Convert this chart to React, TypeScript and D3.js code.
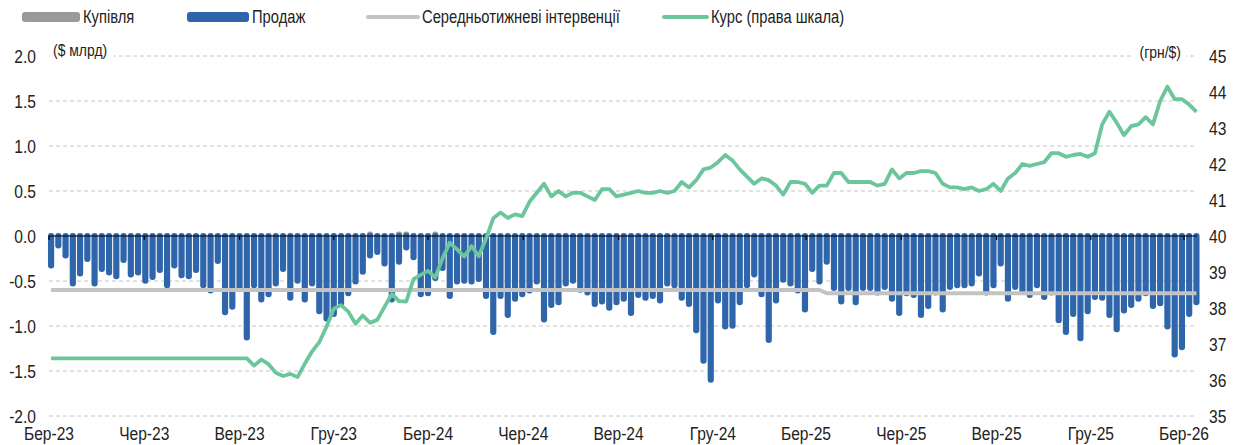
import React from "react";
import * as d3 from "d3";

// weekly sales of FX by the central bank, $ bn (negative = sale)
const sales = [
  -0.36, -0.14, -0.25, -0.56, -0.45, -0.29, -0.56, -0.4, -0.44, -0.48,
  -0.3, -0.46, -0.44, -0.53, -0.49, -0.41, -0.58, -0.36, -0.47, -0.48,
  -0.41, -0.58, -0.64, -0.31, -0.88, -0.82, -0.62, -1.16, -0.58, -0.74,
  -0.68, -0.56, -0.4, -0.72, -0.53, -0.74, -0.56, -0.87, -0.95, -0.9,
  -0.78, -0.67, -0.54, -0.43, -0.25, -0.21, -0.34, -0.74, -0.32, -0.16,
  -0.27, -0.68, -0.67, -0.5, -0.39, -0.7, -0.54, -0.53, -0.54, -0.51,
  -0.7, -1.1, -0.7, -0.91, -0.73, -0.68, -0.64, -0.54, -0.96, -0.8,
  -0.77, -0.56, -0.53, -0.63, -0.66, -0.79, -0.76, -0.83, -0.77, -0.73,
  -0.89, -0.69, -0.72, -0.7, -0.75, -0.56, -0.58, -0.72, -0.79, -1.08,
  -1.42, -1.63, -0.75, -1.04, -1.03, -0.77, -0.58, -0.46, -0.68, -1.19,
  -0.75, -0.52, -0.56, -0.64, -0.85, -0.4, -0.54, -0.32, -0.61, -0.76,
  -0.61, -0.77, -0.61, -0.61, -0.66, -0.6, -0.73, -0.89, -0.67, -0.69,
  -0.91, -0.81, -0.66, -0.85, -0.6, -0.58, -0.58, -0.56, -0.45, -0.66,
  -0.58, -0.34, -0.73, -0.6, -0.64, -0.69, -0.58, -0.71, -0.66, -0.97,
  -1.1, -0.9, -1.17, -0.87, -0.71, -0.72, -0.91, -1.07, -0.86, -0.8,
  -0.73, -0.67, -0.81, -0.78, -1.04, -1.35, -1.27, -0.9, -0.77,
];

// weekly purchases, $ bn
const purchases = [
  0, 0, 0, 0, 0, 0, 0, 0, 0, 0,
  0, 0, 0, 0, 0, 0, 0, 0, 0, 0,
  0, 0, 0, 0, 0, 0, 0, 0, 0, 0,
  0, 0, 0, 0, 0, 0, 0, 0, 0, 0,
  0, 0, 0, 0, 0.05, 0, 0, 0, 0.05, 0.05,
  0, 0, 0, 0.05, 0, 0, 0, 0, 0, 0,
  0, 0, 0, 0, 0, 0, 0, 0, 0, 0,
  0, 0, 0, 0, 0, 0, 0, 0, 0, 0,
  0, 0, 0, 0, 0, 0, 0, 0, 0, 0,
  0, 0, 0, 0, 0, 0, 0, 0, 0, 0,
  0, 0, 0, 0, 0, 0, 0, 0, 0, 0,
  0, 0, 0, 0, 0, 0, 0, 0, 0, 0,
  0, 0, 0, 0, 0, 0, 0, 0, 0, 0,
  0, 0, 0, 0, 0, 0, 0, 0, 0, 0,
  0, 0, 0, 0, 0, 0, 0, 0, 0, 0,
  0, 0, 0, 0, 0, 0, 0, 0, 0,
];

// average weekly interventions, $ bn
const average = [
  -0.6, -0.6, -0.6, -0.6, -0.6, -0.6, -0.6, -0.6, -0.6, -0.6,
  -0.6, -0.6, -0.6, -0.6, -0.6, -0.6, -0.6, -0.6, -0.6, -0.6,
  -0.6, -0.6, -0.6, -0.6, -0.6, -0.6, -0.6, -0.6, -0.6, -0.6,
  -0.6, -0.6, -0.6, -0.6, -0.6, -0.6, -0.6, -0.6, -0.6, -0.6,
  -0.6, -0.6, -0.6, -0.6, -0.6, -0.6, -0.6, -0.6, -0.6, -0.6,
  -0.6, -0.6, -0.6, -0.6, -0.6, -0.6, -0.6, -0.6, -0.6, -0.6,
  -0.6, -0.6, -0.6, -0.6, -0.6, -0.6, -0.6, -0.6, -0.6, -0.6,
  -0.6, -0.6, -0.6, -0.6, -0.6, -0.6, -0.6, -0.6, -0.6, -0.6,
  -0.6, -0.6, -0.6, -0.6, -0.6, -0.6, -0.6, -0.6, -0.6, -0.6,
  -0.6, -0.6, -0.6, -0.6, -0.6, -0.6, -0.6, -0.6, -0.6, -0.6,
  -0.6, -0.6, -0.6, -0.6, -0.6, -0.6, -0.6, -0.635, -0.635, -0.635,
  -0.635, -0.635, -0.635, -0.635, -0.635, -0.635, -0.635, -0.635, -0.635, -0.635,
  -0.635, -0.635, -0.635, -0.635, -0.635, -0.635, -0.635, -0.635, -0.635, -0.635,
  -0.635, -0.635, -0.635, -0.635, -0.635, -0.635, -0.635, -0.635, -0.635, -0.635,
  -0.635, -0.635, -0.635, -0.635, -0.635, -0.635, -0.635, -0.635, -0.635, -0.635,
  -0.635, -0.635, -0.635, -0.635, -0.635, -0.635, -0.635, -0.635, -0.635,
];

// UAH per USD, right axis
const rate = [
  36.6, 36.6, 36.6, 36.6, 36.6, 36.6, 36.6, 36.6, 36.6, 36.6,
  36.6, 36.6, 36.6, 36.6, 36.6, 36.6, 36.6, 36.6, 36.6, 36.6,
  36.6, 36.6, 36.6, 36.6, 36.6, 36.6, 36.6, 36.6, 36.4, 36.57,
  36.44, 36.2, 36.11, 36.17, 36.08, 36.45, 36.79, 37.05, 37.48, 37.98,
  38.08, 37.9, 37.56, 37.79, 37.59, 37.67, 38.03, 38.39, 38.19, 38.18,
  38.8, 38.92, 39.03, 38.85, 39.38, 39.81, 39.63, 39.43, 39.72, 39.44,
  39.93, 40.49, 40.65, 40.5, 40.6, 40.55, 40.95, 41.2, 41.45, 41.1,
  41.25, 41.1, 41.2, 41.2, 41.1, 41.0, 41.3, 41.3, 41.1, 41.15,
  41.2, 41.25, 41.2, 41.2, 41.25, 41.2, 41.25, 41.5, 41.35, 41.55,
  41.85, 41.9, 42.05, 42.25, 42.1, 41.85, 41.65, 41.45, 41.6, 41.55,
  41.4, 41.15, 41.5, 41.5, 41.45, 41.2, 41.4, 41.4, 41.75, 41.75,
  41.5, 41.5, 41.5, 41.5, 41.4, 41.45, 41.85, 41.6, 41.75, 41.75,
  41.8, 41.8, 41.75, 41.45, 41.35, 41.35, 41.3, 41.35, 41.25, 41.3,
  41.45, 41.25, 41.6, 41.75, 42.0, 41.95, 42.0, 42.05, 42.3, 42.3,
  42.2, 42.25, 42.28, 42.2, 42.3, 43.1, 43.45, 43.15, 42.8, 43.05,
  43.1, 43.3, 43.1, 43.75, 44.15, 43.8, 43.8, 43.65, 43.45,
];

const weeks = d3.timeFriday.range(new Date(2023, 2, 3), new Date(2026, 2, 14));
const tickDates = d3.timeMonth.range(new Date(2023, 2, 1), new Date(2026, 2, 2), 3);
const tickLabels = [
  "Бер-23", "Чер-23", "Вер-23", "Гру-23", "Бер-24", "Чер-24", "Вер-24",
  "Гру-24", "Бер-25", "Чер-25", "Вер-25", "Гру-25", "Бер-26",
];
const leftTicks = [2.0, 1.5, 1.0, 0.5, 0.0, -0.5, -1.0, -1.5, -2.0];
const rightTicks = [45, 44, 43, 42, 41, 40, 39, 38, 37, 36, 35];

const FONT = "'Liberation Sans', Arial, sans-serif";
const BLUE = "#2e65ab";
const GREEN = "#6cc69b";
const GREY_LINE = "#c3c3c3";
const GREY_BAR = "#9a9a9a";
const TXT = "#222";

// narrow text: Liberation Sans squeezed horizontally like Arial Narrow
const NText = ({ x, y, size = 18, anchor = "start", children }: any) => (
  <text
    transform={`translate(${x},${y}) scale(0.82,1)`}
    dy="0.35em"
    textAnchor={anchor}
    fontSize={size}
    fill={TXT}
  >
    {children}
  </text>
);

export default function App() {
  const x = d3.scaleTime().domain([new Date(2023, 2, 1), new Date(2026, 2, 1)]).range([49, 1184]);
  const yL = d3.scaleLinear().domain([-2, 2]).range([416, 56]);
  const yR = d3.scaleLinear().domain([35, 45]).range([416, 56]);
  const x0 = 49;
  const x1 = 1197;
  const y0 = yL(0);
  const bw = 6.2;

  const avgLine = d3.line<number>().x((_, i) => x(weeks[i])).y((d) => yL(d));
  const rateLine = d3.line<number>().x((_, i) => x(weeks[i])).y((d) => yR(d));

  return (
    <div style={{ position: "absolute", left: 0, top: 0 }}>
      <svg width={1237} height={445} style={{ display: "block", background: "#fff" }} fontFamily={FONT}>
        {/* grid */}
        {leftTicks.filter((t) => t !== 0).map((t) => (
          <line key={t} x1={x0} x2={x1} y1={yL(t)} y2={yL(t)} stroke="#c6c6c6" strokeDasharray="4 3" />
        ))}
        {/* purchases */}
        {purchases.map((v, i) =>
          v > 0 ? (
            <rect key={"p" + i} x={x(weeks[i]) - bw / 2} y={yL(v)} width={bw} height={y0 - yL(v) + 3} rx={3} fill={GREY_BAR} />
          ) : null
        )}
        {/* sales */}
        {sales.map((v, i) => (
          <rect key={"s" + i} x={x(weeks[i]) - bw / 2} y={y0 - 3} width={bw} height={yL(v) - y0 + 3} rx={3} fill={BLUE} />
        ))}
        {/* zero axis */}
        <line x1={x0} x2={x1} y1={y0} y2={y0} stroke="#000" strokeWidth={1.2} />
        {tickDates.map((d, i) => (
          <line key={"t" + i} x1={x(d)} x2={x(d)} y1={y0} y2={y0 + 4} stroke="#000" strokeWidth={1.2} />
        ))}
        {/* average */}
        <path d={avgLine(average) || ""} fill="none" stroke={GREY_LINE} strokeWidth={4} />
        {/* exchange rate */}
        <path d={rateLine(rate) || ""} fill="none" stroke={GREEN} strokeWidth={3.8} strokeLinejoin="round" />
        {/* left axis labels */}
        {leftTicks.map((t) => (
          <NText key={"l" + t} x={36} y={yL(t)} size={19} anchor="end">
            {t.toFixed(1)}
          </NText>
        ))}
        {/* right axis labels */}
        {rightTicks.map((t) => (
          <NText key={"r" + t} x={1209} y={yR(t)} size={19}>
            {t}
          </NText>
        ))}
        {/* x labels */}
        {tickDates.map((d, i) => (
          <NText key={"x" + i} x={x(d)} y={433} size={19} anchor="middle">
            {tickLabels[i]}
          </NText>
        ))}
        {/* axis titles */}
        <rect x={50} y={42} width={64} height={18} fill="#fff" />
        <NText x={53} y={50} size={17}>($ млрд)</NText>
        <rect x={1132} y={42} width={54} height={18} fill="#fff" />
        <NText x={1181} y={52} size={17} anchor="end">(грн/$)</NText>
        {/* legend */}
        <g>
          <rect x={22} y={12} width={58} height={10} rx={3} fill={GREY_BAR} />
          <NText x={83} y={17} size={18}>Купівля</NText>
          <rect x={187} y={12} width={62} height={10} rx={3} fill={BLUE} />
          <NText x={252} y={17} size={18}>Продаж</NText>
          <line x1={368} x2={418} y1={17} y2={17} stroke={GREY_LINE} strokeWidth={4} strokeLinecap="round" />
          <NText x={422} y={17} size={18}>Середньотижневі інтервенції</NText>
          <line x1={664} x2={707} y1={17} y2={17} stroke={GREEN} strokeWidth={4} strokeLinecap="round" />
          <NText x={711} y={17} size={18}>Курс (права шкала)</NText>
        </g>
      </svg>
    </div>
  );
}
